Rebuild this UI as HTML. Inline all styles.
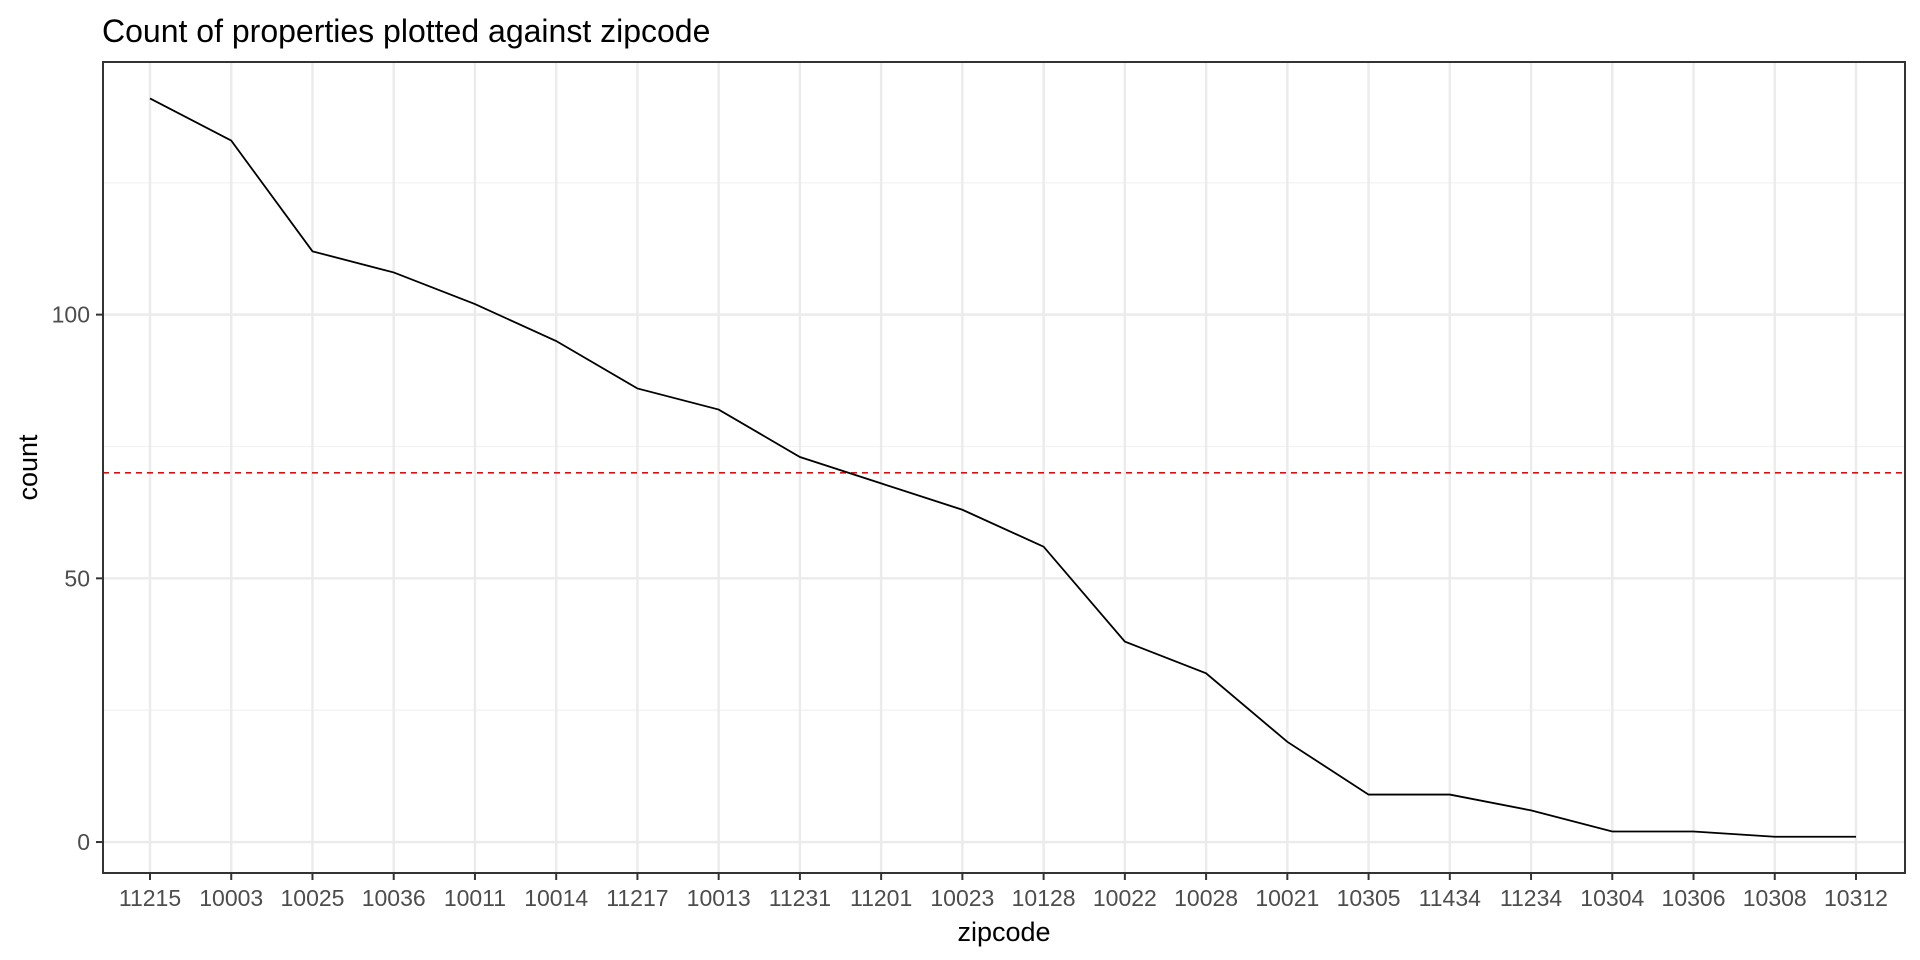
<!DOCTYPE html>
<html><head><meta charset="utf-8"><style>body{margin:0;background:#fff}svg{display:block;font-family:"Liberation Sans",Arial,sans-serif}</style></head>
<body>
<svg id="chart" width="1920" height="960"></svg>
<script>
const categories=["11215","10003","10025","10036","10011","10014","11217","10013","11231","11201","10023","10128","10022","10028","10021","10305","11434","11234","10304","10306","10308","10312"];
const counts=[141,133,112,108,102,95,86,82,73,68,63,56,38,32,19,9,9,6,2,2,1,1];
const yTicks=[0,50,100];
const yMinor=[25,75,125];
const refValue=70;
const NS="http://www.w3.org/2000/svg";
const svg=document.getElementById('chart');
const L=103,R=1905,T=62,B=873;
const x0=150,x1=1856;
const yMin=-5.87,yMax=147.9;
function xs(i){return x0+(x1-x0)*i/(categories.length-1);}
function ys(v){return B-(v-yMin)/(yMax-yMin)*(B-T);}
function mk(tag,attrs,text){const e=document.createElementNS(NS,tag);for(const k in attrs)e.setAttribute(k,attrs[k]);if(text!==undefined)e.textContent=text;svg.appendChild(e);return e;}
let e;
e=mk('rect',{x:L,y:T,width:R-L,height:B-T,fill:'#fff'});


yMinor.forEach(v=>{e=mk('line',{x1:L,x2:R,y1:ys(v),y2:ys(v),stroke:'#f2f2f2','stroke-width':1.3});

});
yTicks.forEach(v=>{e=mk('line',{x1:L,x2:R,y1:ys(v),y2:ys(v),stroke:'#ebebeb','stroke-width':2.4});

});
categories.forEach((c,i)=>{e=mk('line',{x1:xs(i),x2:xs(i),y1:T,y2:B,stroke:'#ebebeb','stroke-width':2.4});

});
e=mk('line',{x1:L,x2:R,y1:ys(refValue),y2:ys(refValue),stroke:'#ff0000','stroke-width':1.6,'stroke-dasharray':'6 5'});


e=mk('polyline',{points:counts.map((v,i)=>xs(i)+','+ys(v)).join(' '),fill:'none',stroke:'#000','stroke-width':1.8});


e=mk('rect',{x:L,y:T,width:R-L,height:B-T,fill:'none',stroke:'#333','stroke-width':2});


yTicks.forEach(v=>{e=mk('line',{x1:L-7,x2:L,y1:ys(v),y2:ys(v),stroke:'#333','stroke-width':2});


e=mk('text',{x:L-13,y:ys(v)+8,'text-anchor':'end','font-size':23,fill:'#4d4d4d'},String(v));

});
categories.forEach((c,i)=>{e=mk('line',{x1:xs(i),x2:xs(i),y1:B,y2:B+7,stroke:'#333','stroke-width':2});


e=mk('text',{x:xs(i),y:906,'text-anchor':'middle','font-size':23,fill:'#4d4d4d'},c);

});
e=mk('text',{x:(L+R)/2,y:941,'text-anchor':'middle','font-size':27,fill:'#000'},'zipcode');


e=mk('text',{x:37,y:(T+B)/2,'text-anchor':'middle','font-size':27,fill:'#000',transform:'rotate(-90 37 '+((T+B)/2)+')'},'count');


e=mk('text',{x:102,y:42,'font-size':32,fill:'#000'},'Count of properties plotted against zipcode');


</script>
</body></html>
